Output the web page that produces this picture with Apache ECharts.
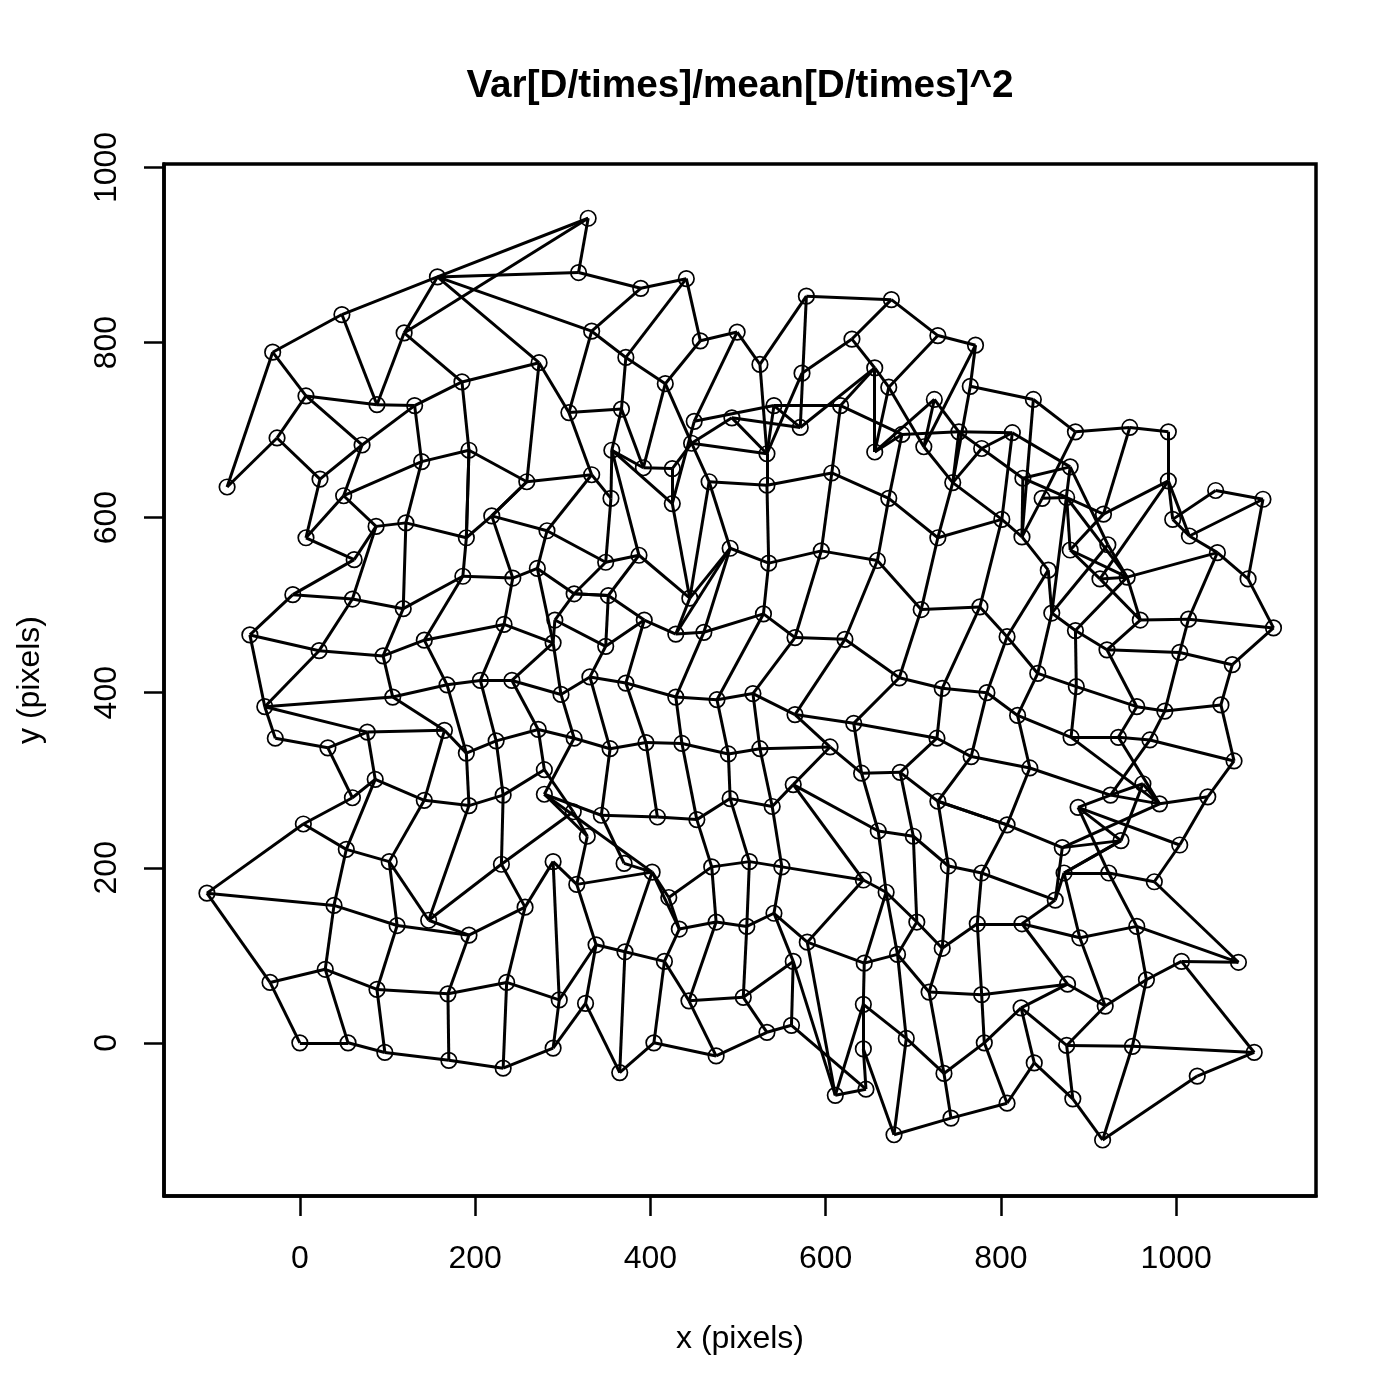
<!DOCTYPE html>
<html><head><meta charset="utf-8">
<style>html,body{margin:0;padding:0;background:#fff}#c{width:1400px;height:1400px}</style>
<script src="https://cdn.jsdelivr.net/npm/echarts@6/dist/echarts.min.js"></script>
</head><body><div id="c"></div>
<script>
const titleText = 'Var[D/times]/mean[D/times]^2';
const xName = 'x (pixels)';
const yName = 'y (pixels)';
const xTicks = [0,200,400,600,800,1000];
const yTicks = [0,200,400,600,800,1000];
const nodeX = [
0,55,97,170,232,289,326,296,365,404,
475,533,561,611,646,643,643,678,743,807,
838,882,916,1024,1089,950,875,823,781,735,
692,-34,29,88,169,236,257,289,316,338,
371,416,444,506,563,433,475,510,541,579,
644,682,718,778,876,919,966,1006,1071,955,
890,824,773,733,704,669,643,550,513,470,
421,402,370,328,312,230,193,147,111,39,
-106,4,53,102,60,86,142,193,232,279,
279,344,408,453,491,539,563,660,700,740,
728,685,641,605,525,489,436,395,354,313,
272,224,190,165,77,32,-28,-40,106,168,
206,242,298,331,372,429,476,517,565,632,
727,766,833,925,888,962,981,1036,1004,937,
870,807,778,872,923,975,862,1066,1051,1064,
987,970,934,955,880,886,842,819,784,733,
684,622,565,529,461,429,393,349,352,313,
291,289,233,142,95,22,-57,-8,60,118,
186,243,271,282,349,387,445,491,535,595,
659,728,709,776,807,854,858,885,921,1004,
959,1014,1111,1082,1047,1015,996,991,1045,1099,
944,913,922,879,917,875,847,879,885,947,
991,837,825,824,801,745,813,778,752,724,
765,771,728,675,630,656,672,687,656,712,
672,607,617,571,541,573,578,525,499,457,
441,389,318,329,157,48,-31,119,333,372,
417,450,493,533,447,392,425,425,356,367,
307,333,355,467,533,273,185,131,88,7,
-26,-83,23,71,139,193,259,219,50,87,
121,190,7,62];
const nodeY = [
0,0,-11,-20,-29,-6,45,49,-34,0,
-15,12,20,-60,-53,-7,44,-105,-86,-69,
-23,-64,-111,-38,-11,-4,-3,40,0,-35,
5,69,84,61,56,69,155,207,181,112,
104,93,48,52,93,130,138,133,148,115,
91,101,58,55,67,42,72,93,92,133,
120,136,136,108,138,172,186,201,207,201,
166,195,205,236,264,204,123,140,134,157,
171,250,221,207,280,301,277,271,283,284,
312,260,258,255,279,270,295,242,236,202,
276,309,308,338,336,330,342,343,336,348,
358,345,331,357,355,337,348,384,395,409,
414,414,398,418,411,395,392,399,375,365,
348,327,314,283,269,296,273,281,226,231,
223,249,194,194,194,184,163,322,386,432,
379,346,349,384,349,407,422,374,400,405,
417,461,463,490,469,467,483,453,511,513,
483,457,478,460,442,448,466,512,507,496,
533,531,542,585,549,557,508,565,548,562,
551,577,495,498,464,540,491,471,449,446,
483,484,474,530,560,579,598,642,631,621,
532,530,569,563,604,623,622,658,698,703,
698,735,645,578,598,640,697,679,698,735,
750,797,808,849,804,771,749,695,675,681,
622,651,728,703,728,765,853,775,812,802,
873,862,880,942,875,832,789,811,813,783,
753,710,714,673,685,657,656,616,677,724,
720,649,622,641,637,777,755,728,729,739,
691,635,644,683,664,677,641,602,625,590,
594,577,577,552];
const edgePairs = [
84,81, 81,80, 81,82, 82,83, 83,86, 83,78, 83,77, 82,79, 82,85, 80,79, 79,78, 78,76, 77,76, 77,87, 77,75, 76,36, 75,36, 75,88, 75,74, 36,37, 37,7,
80,31, 31,32, 32,79, 32,33, 33,78, 33,34, 34,76, 34,35, 35,36, 35,7, 35,4, 31,0, 0,1, 32,1, 1,2, 33,2, 2,3, 34,3, 3,4, 4,5, 5,7, 5,6,
292,293, 293,289, 292,282, 292,288, 289,290, 288,289, 289,178, 293,177, 177,176, 177,178, 178,179, 178,175, 290,291, 290,179, 179,180, 180,291, 180,181, 291,285, 291,287, 287,181, 287,183, 287,286, 181,172, 180,173, 176,175, 176,117, 175,174, 175,117, 174,173, 174,179, 174,118, 173,172, 173,119, 172,171, 172,120,
182,181, 182,169, 182,171, 183,182, 183,184, 169,170, 169,168, 170,171, 170,167, 171,121, 171,122, 119,120, 120,121, 121,122, 122,123, 122,109, 123,167, 123,108, 119,118, 118,117, 118,113, 113,112, 113,114, 114,117, 114,115, 115,116, 117,116, 115,84, 84,85, 114,85, 85,86, 86,87, 87,88, 88,90, 87,112, 88,111, 111,112, 111,110, 110,109, 110,90, 121,110, 120,111, 119,112, 109,89, 109,108, 113,86, 90,74, 74,73, 89,71, 89,91, 89,73,
168,167, 168,166, 166,167, 166,165, 166,124, 123,124, 124,125, 124,107, 165,164, 164,163, 164,125, 163,162, 163,126, 162,161, 162,127, 161,160, 161,128, 160,159, 160,129, 192,160, 159,130, 125,126, 126,127, 127,128, 128,129, 129,130, 128,103, 103,102, 129,102, 102,101, 101,130, 101,100, 130,131, 100,131, 100,141, 108,107, 107,106, 106,105, 105,104, 104,103, 103,96, 96,95, 95,94, 94,93, 93,92, 92,91, 91,108, 92,107, 93,106, 94,105, 95,104, 96,97, 96,66, 97,98, 98,99, 98,101, 97,102, 97,65, 98,64, 99,100, 99,63, 69,93, 68,94, 67,95, 69,68, 68,67, 67,66, 66,65, 66,49, 69,70, 71,70, 72,71, 91,72, 125,106, 126,105, 127,104,
37,38, 7,39, 6,39, 6,8, 8,40, 8,9, 9,41, 9,10, 10,42, 10,11, 11,12, 11,43, 43,42, 43,47, 43,44, 42,41, 42,46, 41,45, 41,40, 40,39, 40,71, 39,38, 38,73, 38,71, 71,45, 70,45, 45,46, 46,47, 47,48, 48,67, 47,68, 46,69, 48,49, 49,50, 48,44, 44,13, 49,13, 44,12, 12,14, 13,14, 13,16, 16,50, 16,30, 16,15, 15,14, 15,17, 50,51, 30,51, 30,17, 30,29, 51,52, 51,65, 50,65, 65,64, 64,51, 64,63, 17,18,
99,142, 142,146, 146,143, 146,61, 140,146, 143,139, 143,144, 144,145, 143,60, 60,59, 61,60, 59,58, 145,58, 59,144, 144,134, 59,56, 56,57, 57,58, 57,24, 56,55, 56,25, 55,60, 55,54, 55,26, 54,61, 54,53, 54,27, 53,52, 52,29, 53,62, 53,28, 62,61, 62,63, 62,142, 63,52, 27,28, 28,29, 28,19, 27,26, 27,20, 20,19, 20,21, 26,21, 26,25, 25,24, 25,22, 21,22, 22,23, 23,24, 29,18, 18,19, 142,141,
159,158, 158,157, 157,156, 156,155, 155,153, 153,150, 150,148, 148,147, 148,149, 153,152, 150,151, 155,154, 154,152, 152,151, 151,147, 157,154, 154,136, 152,136, 151,133, 147,137, 137,136, 137,138, 138,145, 138,134, 134,133, 133,135, 133,136, 135,136, 135,139, 136,140, 139,140, 134,139, 139,143, 132,133, 158,131, 157,132, 131,132, 132,141, 141,100, 141,140,
230,221, 231,230, 231,239, 230,225, 229,239, 229,228, 228,225, 228,222, 237,228, 228,226, 227,226, 227,225, 226,217, 226,224, 239,225, 225,224, 225,191, 224,191, 224,223, 224,193, 191,192, 221,218, 221,223, 222,223, 222,217, 222,215, 216,215, 216,223, 218,216, 218,219, 219,220, 219,214, 220,207, 207,214, 207,211, 207,205, 207,206, 206,208, 208,209, 209,205, 209,203, 206,205, 205,204, 204,203, 204,210, 204,201, 203,202, 202,201, 202,149, 201,200, 201,199, 200,210, 200,198, 200,211, 210,211, 210,213, 210,197, 212,196, 217,212, 212,210, 215,214, 215,210, 214,213, 215,213, 217,196, 196,197, 196,195, 195,223, 195,194, 197,198, 197,155, 198,199, 199,149, 198,153, 199,150, 193,194, 193,192, 193,159, 194,156, 194,158, 196,156, 211,213,
252,251, 251,250, 251,258, 258,259, 259,250, 259,260, 260,249, 249,250, 249,248, 248,247, 247,246, 247,263, 246,233, 246,243, 233,232, 233,234, 234,245, 245,263, 234,235, 235,236, 232,236, 236,238, 236,239, 235,238, 235,243, 235,242, 242,244, 242,237, 244,243, 244,261, 262,243, 262,263, 264,262, 264,263, 244,263, 263,274, 274,188, 274,273, 274,241, 241,240, 241,242, 241,189, 240,191, 240,190, 260,264, 260,265, 248,261, 261,267, 264,266, 266,267, 266,265, 273,264, 273,187, 273,186, 267,186, 267,268, 265,268, 265,269, 268,185, 268,272, 269,270, 269,259, 269,268, 272,184, 272,271, 271,270, 258,270, 184,185, 184,169, 185,168, 185,186, 186,165, 187,165, 187,188, 188,189, 189,190, 190,192, 190,161, 188,163, 187,164, 189,162, 238,237, 238,229, 237,240, 231,232, 168,169, 187,186,
281,256, 281,280, 256,255, 255,254, 254,253, 254,252, 254,257, 257,253, 254,258, 254,275, 255,278, 257,278, 256,279, 279,280, 279,278, 279,283, 278,277, 257,276, 276,277, 277,283, 277,284, 276,275, 276,285, 275,286, 275,270, 285,284, 285,286, 285,291, 284,288, 284,290, 283,288, 283,282, 280,282, 286,271, 286,287, 253,252, 183,271
];
const points = nodeX.map((x,i)=>[x,nodeY[i]]);
const segs = [];
for (let i=0;i<edgePairs.length;i+=2) segs.push({coords:[points[edgePairs[i]],points[edgePairs[i+1]]]});
const fontFam = '"Liberation Sans", Arial, sans-serif';
const chart = echarts.init(document.getElementById('c'),null,{renderer:'canvas'});
const axisBase = {
  type:'value', nameLocation:'middle', splitLine:{show:false},
  axisLine:{show:true,onZero:false,lineStyle:{color:'#000',width:3.5}},
  nameTextStyle:{color:'#000',fontFamily:fontFam,fontSize:32}
};
const plain = v => String(v);
chart.setOption({
  animation:false, backgroundColor:'#fff',
  title:{text:titleText,left:735,top:62,textAlign:'center',textStyle:{color:'#000',fontFamily:fontFam,fontSize:38.7,fontWeight:'bold'}},
  grid:{left:164,right:84,top:164,bottom:204,show:true,outerBoundsMode:'none',containLabel:false,borderColor:'#000',borderWidth:3.5,backgroundColor:'#fff'},
  xAxis:Object.assign({},axisBase,{min:-155,max:1159.5,name:xName,nameGap:127,
    axisTick:{show:true,length:20,inside:false,customValues:xTicks,lineStyle:{color:'#000',width:2.5}},
    axisLabel:{show:true,customValues:xTicks,formatter:plain,margin:47,color:'#000',fontFamily:fontFam,fontSize:32,hideOverlap:false,showMinLabel:true,showMaxLabel:true}}),
  yAxis:Object.assign({},axisBase,{min:-175,max:1004,name:yName,nameGap:118,nameRotate:90,
    axisTick:{show:true,length:20,inside:false,customValues:yTicks,lineStyle:{color:'#000',width:2.5}},
    axisLabel:{show:true,customValues:yTicks,formatter:plain,rotate:90,margin:41,color:'#000',fontFamily:fontFam,fontSize:32,align:'center',hideOverlap:false,showMinLabel:true,showMaxLabel:true}}),
  series:[
    {type:'lines',coordinateSystem:'cartesian2d',polyline:false,silent:true,data:segs,lineStyle:{color:'#000',width:3,opacity:1,curveness:0},effect:{show:false},z:2},
    {type:'scatter',data:points,symbol:'circle',symbolSize:15.5,silent:true,itemStyle:{color:'rgba(0,0,0,0)',borderColor:'#000',borderWidth:1.7,opacity:1},z:3}
  ]
});
</script></body></html>
